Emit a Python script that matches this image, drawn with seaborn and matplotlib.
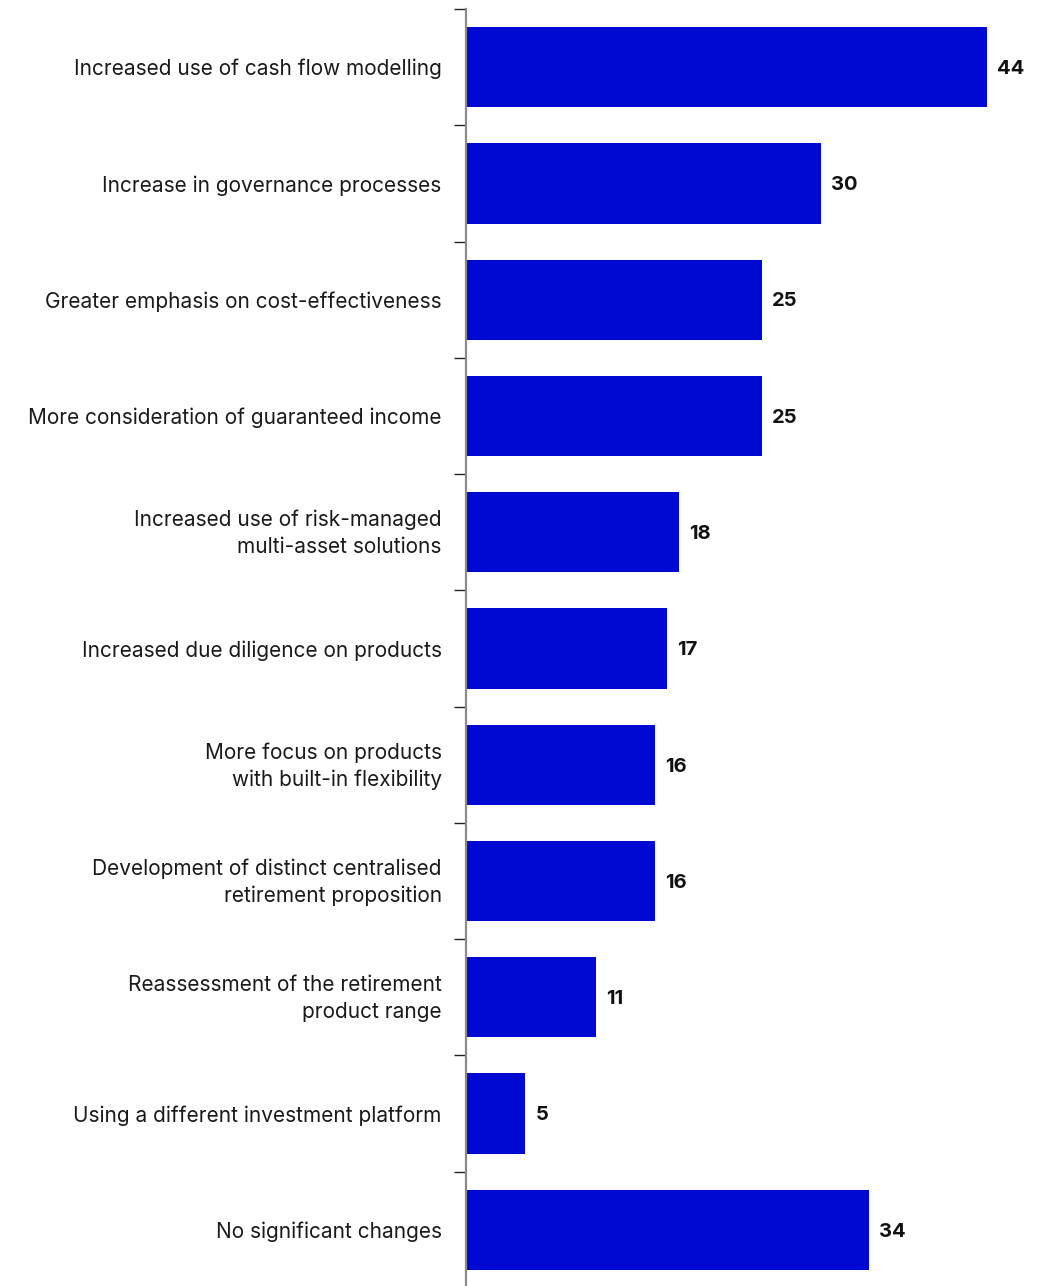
import matplotlib
matplotlib.use("Agg")
import matplotlib.pyplot as plt
import matplotlib.transforms as mtransforms
import seaborn as sns
import pandas as pd
import numpy as np

categories = [
    "Increased use of cash flow modelling",
    "Increase in governance processes",
    "Greater emphasis on cost-effectiveness",
    "More consideration of guaranteed income",
    "Increased use of risk-managed\nmulti-asset solutions",
    "Increased due diligence on products",
    "More focus on products\nwith built-in flexibility",
    "Development of distinct centralised\nretirement proposition",
    "Reassessment of the retirement\nproduct range",
    "Using a different investment platform",
    "No significant changes",
]
values = [44, 30, 25, 25, 18, 17, 16, 16, 11, 5, 34]

bar_color = "#0009D2"

sns.set_theme(style="white")
plt.rcParams["font.family"] = ["Inter", "DejaVu Sans"]

df = pd.DataFrame({"category": categories, "value": values})

fig = plt.figure(figsize=(10.41, 12.86), dpi=100)
ax = fig.add_axes([466 / 1041, 1 - 1288 / 1286, (1041 - 466) / 1041, (1288 - 9) / 1286])

sns.barplot(data=df, y="category", x="value", orient="h", color=bar_color,
            saturation=1, width=0.69, linewidth=0, ax=ax)

ax.set_xlim(0, 575 / (521 / 44))
ax.set_ylim(len(categories) - 0.5, -0.5)
ax.set_xlabel("")
ax.set_ylabel("")
ax.set_xticks([])

for s in ["top", "right", "bottom"]:
    ax.spines[s].set_visible(False)
ax.spines["left"].set_color("#8a8a8a")
ax.spines["left"].set_linewidth(1.6)

ax.tick_params(axis="y", which="major", length=0, pad=17.5, labelsize=15, labelcolor="#1a1a1a")
lift = mtransforms.ScaledTranslation(0, 4 / 100, fig.dpi_scale_trans)
for lbl in ax.get_yticklabels():
    lbl.set_linespacing(1.42)
    if "\n" in lbl.get_text():
        lbl.set_transform(lbl.get_transform() + lift)
ax.set_yticks(np.arange(-0.5, len(categories), 1.0), minor=True)
ax.tick_params(axis="y", which="minor", length=8.6, width=1.0, color="#222222", left=True)

for i, v in enumerate(values):
    ax.text(v + 0.85, i + 0.015, f"{v}", va="center", ha="left", fontsize=14.5,
            fontweight="bold", color="#111111")

fig.savefig("out.png", dpi=100)
